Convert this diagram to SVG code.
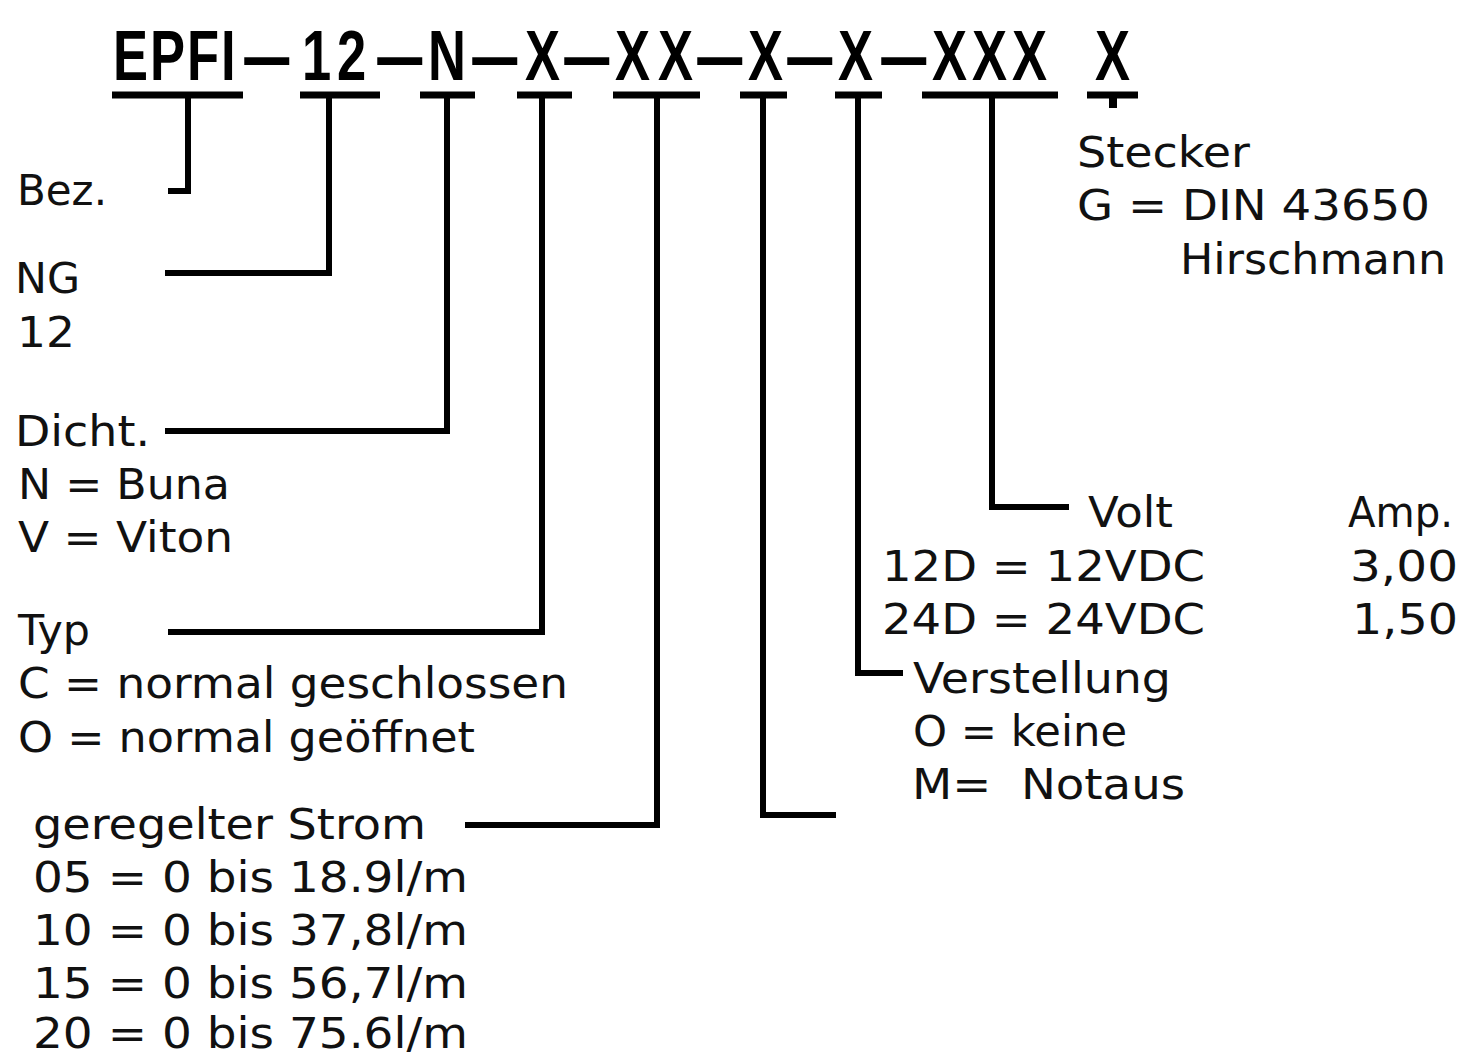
<svg xmlns="http://www.w3.org/2000/svg" width="1462" height="1058" viewBox="0 0 1462 1058">
<style>
.t{font-family:"DejaVu Sans","Liberation Sans",sans-serif;font-size:42px;fill:#111}
.h{font-family:"Liberation Sans","DejaVu Sans",sans-serif;font-weight:bold;font-size:70px;fill:#000}
.d{font-size:58px;stroke:#000;stroke-width:2}
.c{stroke:#000;stroke-width:6;fill:none;stroke-linecap:butt;stroke-linejoin:miter}
.u{stroke:#000;stroke-width:7;fill:none}
</style>
<rect width="1462" height="1058" fill="#fff"/>
<g id="code">
<text class="h" transform="scale(0.75 1)" xml:space="preserve"><tspan x="150.67 200 249.33 294.67" y="80">EPFI</tspan><tspan class="d" x="326.67" y="77">—</tspan><tspan x="402.67 449.33" y="80">12</tspan><tspan class="d" x="504" y="77">—</tspan><tspan x="570.67" y="80">N</tspan><tspan class="d" x="630.67" y="77">—</tspan><tspan x="700" y="80">X</tspan><tspan class="d" x="753.33" y="77">—</tspan><tspan x="820 877.33" y="80">XX</tspan><tspan class="d" x="930.67" y="77">—</tspan><tspan x="997.33" y="80">X</tspan><tspan class="d" x="1050.67" y="77">—</tspan><tspan x="1117.33" y="80">X</tspan><tspan class="d" x="1176" y="77">—</tspan><tspan x="1242.67 1296 1349.33 1413.33 1460" y="80">XXX X</tspan></text>
</g>
<g id="connectors">
<line class="u" x1="112" y1="95" x2="243" y2="95"/>
<line class="u" x1="300" y1="95" x2="380" y2="95"/>
<line class="u" x1="420" y1="95" x2="475" y2="95"/>
<line class="u" x1="517" y1="95" x2="572" y2="95"/>
<line class="u" x1="613" y1="95" x2="700" y2="95"/>
<line class="u" x1="740" y1="95" x2="787" y2="95"/>
<line class="u" x1="835" y1="95" x2="882" y2="95"/>
<line class="u" x1="922" y1="95" x2="1058" y2="95"/>
<line class="u" x1="1087" y1="95" x2="1138" y2="95"/>
<path class="c" d="M188 95V191H168"/>
<path class="c" d="M329 95V273H165"/>
<path class="c" d="M447 95V431H165"/>
<path class="c" d="M542 95V632H168"/>
<path class="c" d="M657 95V825H465"/>
<path class="c" d="M763 95V815H836"/>
<path class="c" d="M858 95V673H903"/>
<path class="c" d="M992 95V507H1069"/>
<path class="c" d="M1113 95V108" style="stroke-width:8"/>
</g>
<g id="bez">
<text class="t" x="17" y="205" textLength="90" lengthAdjust="spacingAndGlyphs">Bez.</text>
</g>
<g id="ng">
<text class="t" x="15" y="293" textLength="65" lengthAdjust="spacingAndGlyphs">NG</text>
<text class="t" x="17" y="347" textLength="58" lengthAdjust="spacingAndGlyphs">12</text>
</g>
<g id="dicht">
<text class="t" x="15" y="446" textLength="135" lengthAdjust="spacingAndGlyphs">Dicht.</text>
<text class="t" x="18" y="499" textLength="212" lengthAdjust="spacingAndGlyphs">N = Buna</text>
<text class="t" x="18" y="552" textLength="215" lengthAdjust="spacingAndGlyphs">V = Viton</text>
</g>
<g id="typ">
<text class="t" x="18" y="645" textLength="72" lengthAdjust="spacingAndGlyphs">Typ</text>
<text class="t" x="18" y="698" textLength="550" lengthAdjust="spacingAndGlyphs">C = normal geschlossen</text>
<text class="t" x="18" y="752" textLength="457" lengthAdjust="spacingAndGlyphs">O = normal geöffnet</text>
</g>
<g id="strom">
<text class="t" x="33" y="839" textLength="393" lengthAdjust="spacingAndGlyphs">geregelter Strom</text>
<text class="t" x="33" y="892" textLength="435" lengthAdjust="spacingAndGlyphs">05 = 0 bis 18.9l/m</text>
<text class="t" x="33" y="945" textLength="435" lengthAdjust="spacingAndGlyphs">10 = 0 bis 37,8l/m</text>
<text class="t" x="33" y="998" textLength="435" lengthAdjust="spacingAndGlyphs">15 = 0 bis 56,7l/m</text>
<text class="t" x="33" y="1048" textLength="435" lengthAdjust="spacingAndGlyphs">20 = 0 bis 75.6l/m</text>
</g>
<g id="verstellung">
<text class="t" x="913" y="693" textLength="258" lengthAdjust="spacingAndGlyphs">Verstellung</text>
<text class="t" x="913" y="746" textLength="214" lengthAdjust="spacingAndGlyphs">O = keine</text>
<text class="t" x="912" y="799" textLength="273" lengthAdjust="spacingAndGlyphs" xml:space="preserve">M=  Notaus</text>
</g>
<g id="volt">
<text class="t" x="1088" y="527" textLength="85" lengthAdjust="spacingAndGlyphs">Volt</text>
<text class="t" x="882" y="581" textLength="323" lengthAdjust="spacingAndGlyphs">12D = 12VDC</text>
<text class="t" x="882" y="634" textLength="323" lengthAdjust="spacingAndGlyphs">24D = 24VDC</text>
<text class="t" x="1348" y="527" textLength="105" lengthAdjust="spacingAndGlyphs">Amp.</text>
<text class="t" x="1350" y="581" textLength="108" lengthAdjust="spacingAndGlyphs">3,00</text>
<text class="t" x="1352" y="634" textLength="106" lengthAdjust="spacingAndGlyphs">1,50</text>
</g>
<g id="stecker">
<text class="t" x="1077" y="167" textLength="173" lengthAdjust="spacingAndGlyphs">Stecker</text>
<text class="t" x="1077" y="220" textLength="353" lengthAdjust="spacingAndGlyphs">G = DIN 43650</text>
<text class="t" x="1180" y="274" textLength="266" lengthAdjust="spacingAndGlyphs">Hirschmann</text>
</g>
</svg>
